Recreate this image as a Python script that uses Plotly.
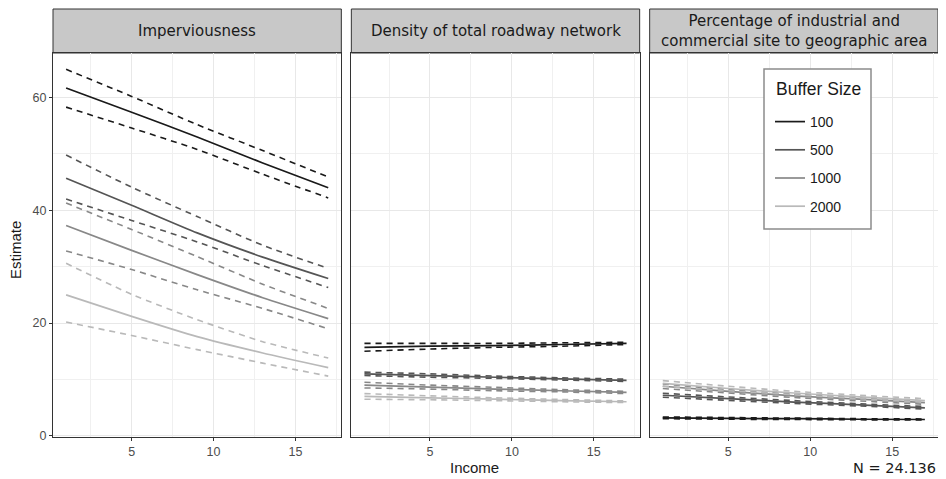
import plotly.graph_objects as go

# ---------------- data ----------------
income = [1, 5, 9, 13, 17]
buffer_sizes = ["100", "500", "1000", "2000"]
panel_titles = [
    "Imperviousness",
    "Density of total roadway network",
    "Percentage of industrial and<br>commercial site to geographic area",
]
legend_title = "Buffer Size"

# Panel 1: Imperviousness
imp_est = {"100": [61.7, 57.4, 53.0, 48.4, 44.0],
           "500": [45.7, 40.9, 36.0, 31.7, 27.9],
           "1000": [37.3, 32.9, 28.6, 24.5, 20.8],
           "2000": [25.0, 21.2, 17.6, 14.7, 12.1]}
imp_hi = {"100": [65.0, 60.2, 55.2, 50.6, 45.9],
          "500": [49.8, 44.1, 38.9, 33.8, 29.7],
          "1000": [41.3, 36.6, 31.8, 26.9, 22.6],
          "2000": [30.6, 25.1, 20.6, 16.7, 13.8]}
imp_lo = {"100": [58.3, 54.6, 50.8, 46.4, 42.2],
          "500": [42.0, 38.2, 34.4, 30.2, 26.3],
          "1000": [32.8, 29.5, 25.9, 22.6, 19.0],
          "2000": [20.2, 17.8, 15.3, 12.9, 10.6]}

# Panel 2: Density of total roadway network
road_est = {"100": [15.7, 15.9, 16.0, 16.2, 16.4],
            "500": [11.0, 10.7, 10.4, 10.1, 9.85],
            "1000": [9.0, 8.65, 8.3, 8.0, 7.7],
            "2000": [7.0, 6.75, 6.5, 6.25, 6.05]}
road_hi = {"100": [16.4, 16.4, 16.4, 16.5, 16.6],
           "500": [11.3, 11.0, 10.6, 10.3, 10.05],
           "1000": [9.5, 9.0, 8.6, 8.2, 7.9],
           "2000": [7.5, 7.1, 6.75, 6.45, 6.2]}
road_lo = {"100": [15.0, 15.4, 15.7, 15.9, 16.2],
           "500": [10.7, 10.4, 10.2, 9.9, 9.65],
           "1000": [8.5, 8.3, 8.0, 7.8, 7.5],
           "2000": [6.5, 6.4, 6.25, 6.05, 5.9]}

# Panel 3: Percentage of industrial and commercial site
ind_est = {"100": [3.2, 3.1, 3.05, 2.95, 2.9],
           "500": [7.2, 6.6, 6.0, 5.5, 4.95],
           "1000": [8.8, 7.9, 7.1, 6.5, 5.9],
           "2000": [9.3, 8.4, 7.6, 6.9, 6.25]}
ind_hi = {"100": [3.35, 3.25, 3.15, 3.05, 3.0],
          "500": [7.55, 6.9, 6.25, 5.7, 5.2],
          "1000": [9.2, 8.2, 7.4, 6.8, 6.2],
          "2000": [9.8, 8.8, 7.9, 7.2, 6.6]}
ind_lo = {"100": [3.05, 2.95, 2.9, 2.85, 2.8],
          "500": [6.85, 6.3, 5.75, 5.3, 4.75],
          "1000": [8.4, 7.6, 6.8, 6.2, 5.6],
          "2000": [8.8, 8.0, 7.3, 6.6, 5.95]}

x_ticks = [5, 10, 15]
y_ticks = [0, 20, 40, 60]
caption = "N = 24.136"

# ---------------- styling ----------------
colors = {"100": "#1a1a1a", "500": "#555555", "1000": "#888888", "2000": "#b9b9b9"}
panels = [(imp_est, imp_lo, imp_hi), (road_est, road_lo, road_hi), (ind_est, ind_lo, ind_hi)]
L0, T0, PW, PH = 53, 53, 885, 384  # plot-area origin (page px) and size
gap = 10 / PW
pw = (1 - 2 * gap) / 3
domains = [[i * (pw + gap), i * (pw + gap) + pw] for i in range(3)]
domains[2][1] = 1.0


def px_x(px):
    return (px - L0) / PW


def px_y(py):
    return (T0 + PH - py) / PH


fig = go.Figure()
for p, (est, lo, hi) in enumerate(panels):
    xa = "x" if p == 0 else f"x{p+1}"
    ya = "y" if p == 0 else f"y{p+1}"
    for b in buffer_sizes:
        for arr in (hi[b], lo[b]):
            fig.add_trace(go.Scatter(
                x=income, y=arr, mode="lines", xaxis=xa, yaxis=ya,
                line=dict(color=colors[b], width=1.6, dash="6px,5px", shape="spline", smoothing=0.6),
                showlegend=False, hoverinfo="skip", legendgroup=b))
        fig.add_trace(go.Scatter(
            x=income, y=est[b], mode="lines", xaxis=xa, yaxis=ya, name=b,
            line=dict(color=colors[b], width=1.7, shape="spline", smoothing=0.6),
            showlegend=(p == 0), legendgroup=b))

strip_font = "DejaVu Sans, Open Sans, sans-serif"
tick_font = dict(family="Liberation Sans, Arial, sans-serif", size=12.5, color="#4d4d4d")
# page has an 8px body margin: figure occupies page px 8..946 / 8..479
layout = dict(
    width=938, height=471,
    margin=dict(l=45, r=8, t=45, b=42),
    paper_bgcolor="white", plot_bgcolor="white",
    font=dict(family="Liberation Sans, Arial, sans-serif", color="#1a1a1a"),
    legend=dict(
        x=px_x(770), y=px_y(106), xanchor="left", yanchor="top",
        bgcolor="rgba(0,0,0,0)", borderwidth=0,
        font=dict(size=14, color="#1a1a1a"),
        traceorder="grouped", tracegroupgap=7, itemwidth=30,
    ),
    shapes=[], annotations=[],
)
for p in range(3):
    suffix = "" if p == 0 else str(p + 1)
    layout["xaxis" + suffix] = dict(
        domain=domains[p], range=[0.2, 17.8], tickvals=x_ticks,
        showgrid=True, gridcolor="#e8e8e8", gridwidth=1.2,
        minor=dict(dtick=2.5, tick0=0, showgrid=True, gridcolor="#f0f0f0", gridwidth=0.7),
        showline=True, linecolor="#333333", linewidth=1, mirror=True,
        ticks="outside", ticklen=3, tickcolor="#333333", tickfont=tick_font,
        zeroline=False, anchor="y" + suffix,
    )
    layout["yaxis" + suffix] = dict(
        domain=[0, 1], range=[-0.2, 67.9], tickvals=y_ticks,
        showgrid=True, gridcolor="#e8e8e8", gridwidth=1.2,
        minor=dict(dtick=10, tick0=0, showgrid=True, gridcolor="#f0f0f0", gridwidth=0.7),
        showline=True, linecolor="#333333", linewidth=1, mirror=True,
        ticks="outside" if p == 0 else "", ticklen=3, tickcolor="#333333",
        showticklabels=(p == 0), tickfont=tick_font,
        zeroline=False, anchor="x" + suffix,
    )
    if p > 0:
        layout["yaxis" + suffix]["matches"] = "y"
    # strip
    layout["shapes"].append(dict(
        type="rect", xref="paper", yref="paper",
        x0=domains[p][0], x1=domains[p][1], y0=1, y1=1 + 44 / PH,
        fillcolor="#c8c8c8", line=dict(color="#333333", width=1), layer="below"))
    layout["annotations"].append(dict(
        text=panel_titles[p], xref="paper", yref="paper",
        x=(domains[p][0] + domains[p][1]) / 2, y=1 + 22 / PH,
        xanchor="center", yanchor="middle", showarrow=False,
        font=dict(family=strip_font, size=15, color="#1a1a1a")))

# legend box + title
layout["shapes"].append(dict(
    type="rect", xref="paper", yref="paper",
    x0=px_x(764), x1=px_x(871), y0=px_y(229), y1=px_y(69),
    fillcolor="white", line=dict(color="#8c8c8c", width=1.5), layer="above"))
layout["annotations"].append(dict(
    text=legend_title, xref="paper", yref="paper", x=px_x(818), y=px_y(89),
    xanchor="center", yanchor="middle", showarrow=False,
    font=dict(size=17.5, color="#1a1a1a")))

# axis titles
layout["annotations"].append(dict(
    text="Estimate", xref="paper", yref="paper", x=px_x(16), y=px_y(250),
    xanchor="center", yanchor="middle", textangle=-90, showarrow=False,
    font=dict(size=15, color="#1a1a1a")))
layout["annotations"].append(dict(
    text="Income", xref="paper", yref="paper", x=px_x(474), y=px_y(467),
    xanchor="center", yanchor="middle", showarrow=False,
    font=dict(size=15, color="#1a1a1a")))
layout["annotations"].append(dict(
    text=caption, xref="paper", yref="paper", x=1.0, y=px_y(468),
    xanchor="right", yanchor="middle", showarrow=False,
    font=dict(family=strip_font, size=14.5, color="#1a1a1a")))

fig.update_layout(**layout)
fig.write_html("out.html")
